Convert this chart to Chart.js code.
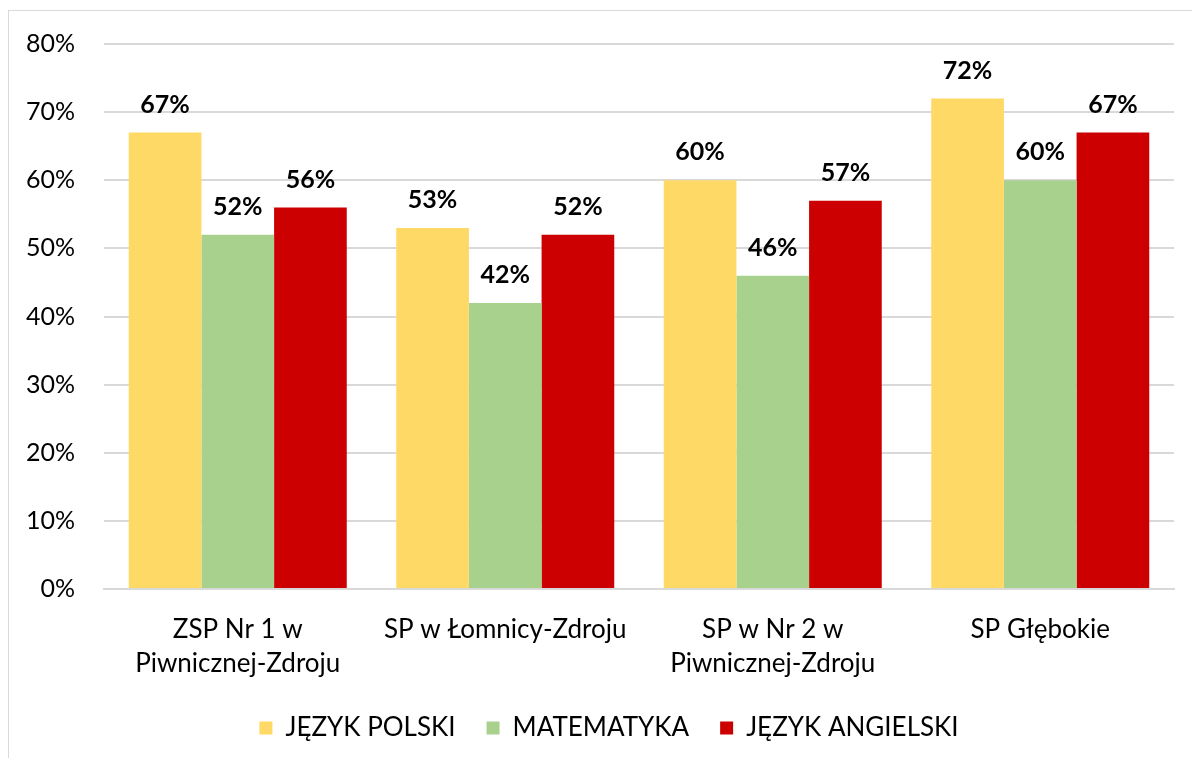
<!DOCTYPE html>
<html>
<head>
<meta charset="utf-8">
<script src="https://cdn.jsdelivr.net/npm/chart.js@4.4.1/dist/chart.umd.min.js"></script>
<style>
    html, body { margin: 0; padding: 0; background: #fff; overflow: hidden; }
    #wrap { position: relative; width: 1192px; height: 758px; }
    #frame { position: absolute; left: 8px; top: 10px; width: 1200px; height: 760px; border: 1px solid #d9d9d9; box-sizing: border-box; }
    canvas { position: absolute; left: 0; top: 0; }
</style>
</head>
<body>
<div id="wrap">
    <div id="frame"></div>
    <canvas id="schoolChart" width="1192" height="758"></canvas>
</div>
<script>
// Data
var schools = [
    ['ZSP Nr 1 w', 'Piwnicznej-Zdroju'],
    'SP w Łomnicy-Zdroju',
    ['SP w Nr 2 w', 'Piwnicznej-Zdroju'],
    'SP Głębokie'
];
var polski = [67, 53, 60, 72];
var matematyka = [52, 42, 46, 60];
var angielski = [56, 52, 57, 67];
var seriesNames = ['JĘZYK POLSKI', 'MATEMATYKA', 'JĘZYK ANGIELSKI'];

var FONT = 'Lato, "Open Sans", sans-serif';

// Value labels above each bar
var valueLabels = {
    id: 'valueLabels',
    afterDatasetsDraw: function(chart) {
        var ctx = chart.ctx;
        ctx.save();
        ctx.font = 'bold 25px ' + FONT;
        ctx.fillStyle = '#000';
        ctx.textAlign = 'center';
        ctx.textBaseline = 'middle';
        chart.data.datasets.forEach(function(ds, i) {
            chart.getDatasetMeta(i).data.forEach(function(bar, j) {
                ctx.fillText(ds.data[j] + '%', bar.x, bar.y - 28);
            });
        });
        ctx.restore();
    }
};

// Nudge the legend a little to the right, like the original
var legendShift = {
    id: 'legendShift',
    afterLayout: function(chart) {
        chart.legend.left += 44;
    }
};

var ctx = document.getElementById('schoolChart').getContext('2d');
var schoolChart = new Chart(ctx, {
    type: 'bar',
    data: {
        labels: schools,
        datasets: [
            { label: seriesNames[0], data: polski, backgroundColor: '#FFD966' },
            { label: seriesNames[1], data: matematyka, backgroundColor: '#A9D18E' },
            { label: seriesNames[2], data: angielski, backgroundColor: '#CC0000' }
        ]
    },
    options: {
        responsive: false,
        animation: false,
        layout: { padding: { left: 0, right: 18, top: 20, bottom: 7 } },
        datasets: {
            bar: { barPercentage: 1, categoryPercentage: 0.815 }
        },
        scales: {
            x: {
                grid: { display: false },
                border: { display: true, color: '#d9d9d9', width: 2 },
                ticks: {
                    color: '#000',
                    font: { family: FONT, size: 26, lineHeight: 1.31 },
                    padding: 16,
                    maxRotation: 0,
                    autoSkip: false
                },
                afterFit: function(scale) { scale.height = 95; }
            },
            y: {
                min: 0,
                max: 80,
                ticks: {
                    stepSize: 10,
                    color: '#000',
                    padding: 29,
                    font: { family: FONT, size: 25 },
                    callback: function(v) { return v + '%'; }
                },
                grid: { color: '#d9d9d9', lineWidth: 2, drawTicks: false },
                border: { display: false },
                afterFit: function(scale) { scale.width = 104; }
            }
        },
        plugins: {
            legend: {
                position: 'bottom',
                labels: {
                    color: '#000',
                    font: { family: FONT, size: 26 },
                    boxWidth: 13,
                    boxHeight: 13,
                    padding: 31
                }
            },
            tooltip: { enabled: false }
        }
    },
    plugins: [valueLabels, legendShift]
});
</script>
</body>
</html>
